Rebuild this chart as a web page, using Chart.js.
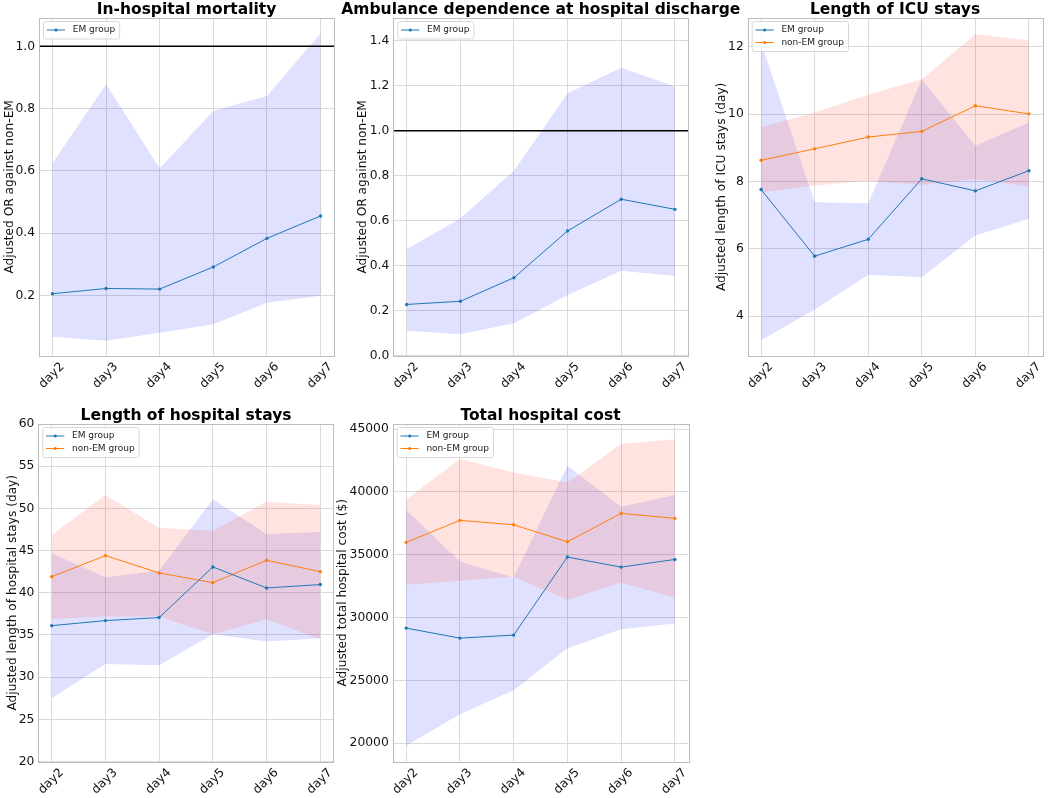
<!DOCTYPE html>
<html>
<head>
<meta charset="utf-8">
<script src="https://cdn.jsdelivr.net/npm/chart.js@4.4.1/dist/chart.umd.min.js"></script>
<style>
html, body { margin: 0; padding: 0; background: #fff; overflow: hidden; }
#wrap { position: relative; width: 1048px; height: 798px; }
canvas { position: absolute; }
</style>
</head>
<body>
<div id="wrap">
  <canvas id="c1"></canvas>
  <canvas id="c2"></canvas>
  <canvas id="c3"></canvas>
  <canvas id="c4"></canvas>
  <canvas id="c5"></canvas>
</div>
<script>
// categories
var days = ['day2', 'day3', 'day4', 'day5', 'day6', 'day7'];

// In-hospital mortality (adjusted OR, EM vs non-EM)
var mortEM   = [0.205, 0.222, 0.220, 0.291, 0.383, 0.455];
var mortEMHi = [0.624, 0.878, 0.608, 0.792, 0.840, 1.042];
var mortEMLo = [0.067, 0.054, 0.080, 0.107, 0.176, 0.199];
var mortTicks = [0.2, 0.4, 0.6, 0.8, 1.0];

// Ambulance dependence at discharge (adjusted OR)
var ambEM   = [0.228, 0.242, 0.347, 0.555, 0.696, 0.651];
var ambEMHi = [0.473, 0.611, 0.823, 1.167, 1.281, 1.197];
var ambEMLo = [0.111, 0.095, 0.144, 0.270, 0.378, 0.355];
var ambTicks = [0.0, 0.2, 0.4, 0.6, 0.8, 1.0, 1.2, 1.4];

// Length of ICU stays (day)
var icuEM    = [7.76, 5.78, 6.28, 8.08, 7.72, 8.32];
var icuEMHi  = [12.13, 7.38, 7.35, 11.04, 9.06, 9.75];
var icuEMLo  = [3.28, 4.19, 5.23, 5.15, 6.39, 6.89];
var icuNon   = [8.63, 8.97, 9.32, 9.49, 10.25, 10.01];
var icuNonHi = [9.61, 10.05, 10.58, 11.04, 12.38, 12.20];
var icuNonLo = [7.67, 7.88, 8.02, 7.90, 8.07, 7.85];
var icuTicks = [4, 6, 8, 10, 12];

// Length of hospital stays (day)
var losEM    = [36.1, 36.7, 37.06, 43.06, 40.57, 40.97];
var losEMHi  = [44.68, 41.84, 42.6, 51.08, 46.97, 47.2];
var losEMLo  = [27.5, 31.57, 31.41, 35.08, 34.21, 34.6];
var losNon   = [41.9, 44.4, 42.35, 41.2, 43.85, 42.5];
var losNonHi = [46.85, 51.59, 47.68, 47.36, 50.8, 50.4];
var losNonLo = [36.9, 37.2, 37.2, 35.08, 36.86, 34.5];
var losTicks = [20, 25, 30, 35, 40, 45, 50, 55, 60];

// Total hospital cost ($)
var costEM    = [29156, 28360, 28600, 34810, 34010, 34620];
var costEMHi  = [38550, 34460, 33190, 42080, 38820, 39745];
var costEMLo  = [19790, 22310, 24220, 27560, 29070, 29530];
var costNon   = [35980, 37730, 37380, 36030, 38285, 37890];
var costNonHi = [39400, 42610, 41550, 40750, 43800, 44180];
var costNonLo = [32610, 32925, 33240, 31410, 32790, 31600];
var costTicks = [20000, 25000, 30000, 35000, 40000, 45000];

var FONT = '"DejaVu Sans", sans-serif';
var GRID = '#dadada';
var BLUE = '#1f77b4', ORANGE = '#ff7f0e';
var BAND_EM = 'rgba(0, 0, 255, 0.12)', BAND_NON = 'rgba(250, 90, 70, 0.17)';

function pts(arr) {
    return arr.map(function (v, i) { return {x: i, y: v}; });
}
function oneDec(v) { return v.toFixed(1); }
function plain(v) { return String(v); }

function makeChart(cfg) {
    var cv = document.getElementById(cfg.id);
    cv.width = cfg.w; cv.height = cfg.h;
    cv.style.left = cfg.x + 'px'; cv.style.top = cfg.y + 'px';

    var datasets = [];
    cfg.groups.forEach(function (g, k) {
        datasets.push({data: pts(g.hi), fill: '+1', backgroundColor: g.band, borderWidth: 0, pointRadius: 0, order: 3 - k});
        datasets.push({data: pts(g.lo), fill: false, borderWidth: 0, pointRadius: 0, order: 3 - k});
        datasets.push({label: g.label, data: pts(g.mean), borderColor: g.color, backgroundColor: g.color,
            borderWidth: 1, pointRadius: 1.7, pointBorderWidth: 0, fill: false, order: 0});
    });

    var panel = {
        id: 'panel',
        afterDatasetsDraw: function (chart) {
            if (cfg.ref == null) return;
            var ctx = chart.ctx, ca = chart.chartArea;
            var py = chart.scales.y.getPixelForValue(cfg.ref);
            ctx.save();
            ctx.strokeStyle = '#000'; ctx.lineWidth = 1.5;
            ctx.beginPath(); ctx.moveTo(ca.left, py); ctx.lineTo(ca.right, py); ctx.stroke();
            ctx.restore();
        },
        afterDraw: function (chart) {
            var ctx = chart.ctx, ca = chart.chartArea;
            ctx.save();
            // frame
            ctx.strokeStyle = '#bcbcbc'; ctx.lineWidth = 1;
            ctx.strokeRect(Math.round(ca.left) + 0.5, Math.round(ca.top) + 0.5,
                Math.round(ca.right - ca.left), Math.round(ca.bottom - ca.top));
            // legend inside the axes
            ctx.font = '9px ' + FONT;
            var tw = 0;
            cfg.groups.forEach(function (g) { tw = Math.max(tw, ctx.measureText(g.label).width); });
            var lx = ca.left + 4, ly = ca.top + 3;
            var bw = 29.7 + tw + 4, bh = 5 + cfg.groups.length * 12.5;
            ctx.fillStyle = 'rgba(255,255,255,0.8)';
            ctx.strokeStyle = '#d8d8d8';
            ctx.beginPath(); ctx.roundRect(lx + 0.5, ly + 0.5, bw, bh, 2); ctx.fill(); ctx.stroke();
            cfg.groups.forEach(function (g, i) {
                var cy = ly + 2.5 + 6.5 + i * 12.5;
                ctx.strokeStyle = g.color; ctx.lineWidth = 1;
                ctx.beginPath(); ctx.moveTo(lx + 3.7, cy); ctx.lineTo(lx + 22, cy); ctx.stroke();
                ctx.fillStyle = g.color;
                ctx.beginPath(); ctx.arc(lx + 13, cy, 1.6, 0, Math.PI * 2); ctx.fill();
                ctx.fillStyle = '#222'; ctx.textBaseline = 'middle'; ctx.textAlign = 'left';
                ctx.fillText(g.label, lx + 29.7, cy);
            });
            // panel title
            ctx.font = 'bold 15.5px ' + FONT;
            ctx.fillStyle = '#000'; ctx.textAlign = 'center'; ctx.textBaseline = 'alphabetic';
            ctx.fillText(cfg.title, (ca.left + ca.right) / 2, ca.top - 4);
            ctx.restore();
        }
    };

    return new Chart(cv, {
        type: 'line',
        data: {datasets: datasets},
        plugins: [panel],
        options: {
            responsive: false,
            animation: false,
            layout: {padding: {top: cfg.padTop, right: cfg.padRight, left: 0, bottom: 0}},
            plugins: {legend: {display: false}, tooltip: {enabled: false}},
            elements: {line: {tension: 0}},
            scales: {
                x: {
                    type: 'linear', min: -0.25, max: 5.25, bounds: 'data',
                    afterBuildTicks: function (s) { s.ticks = days.map(function (d, i) { return {value: i}; }); },
                    afterFit: function (s) { s.height = cfg.xh; },
                    ticks: {
                        minRotation: 45, maxRotation: 45, autoSkip: false, padding: 4, labelOffset: 10,
                        color: '#111', font: {family: FONT, size: 12.2},
                        callback: function (v) { return days[v]; }
                    },
                    grid: {color: GRID, drawTicks: false},
                    border: {display: false}
                },
                y: {
                    type: 'linear', min: cfg.ymin, max: cfg.ymax, bounds: 'data',
                    afterBuildTicks: function (s) { s.ticks = cfg.yticks.map(function (v) { return {value: v}; }); },
                    afterFit: function (s) { s.width = cfg.yw; },
                    ticks: {padding: 4, color: '#111', font: {family: FONT, size: 12.3}, callback: cfg.fmt},
                    title: {display: true, text: cfg.ytitle, color: '#111', font: {family: FONT, size: 12.2},
                        padding: {top: cfg.ytp, bottom: 0}},
                    grid: {color: GRID, drawTicks: false},
                    border: {display: false}
                }
            }
        }
    });
}

var emLabel = 'EM group', nonLabel = 'non-EM group';

makeChart({
    id: 'c1', x: 0, y: 0, w: 340, h: 400, padTop: 18, padRight: 6, yw: 39, xh: 44.3, ytp: 2.7,
    ymin: 0.006, ymax: 1.091, yticks: mortTicks, fmt: oneDec, ref: 1.0,
    title: 'In-hospital mortality', ytitle: 'Adjusted OR against non-EM',
    groups: [{label: emLabel, mean: mortEM, hi: mortEMHi, lo: mortEMLo, color: BLUE, band: BAND_EM}]
});
makeChart({
    id: 'c2', x: 340, y: 0, w: 420, h: 400, padTop: 18, padRight: 71.7, yw: 53.3, xh: 44.3, ytp: 15.4,
    ymin: 0, ymax: 1.502, yticks: ambTicks, fmt: oneDec, ref: 1.0,
    title: 'Ambulance dependence at hospital discharge', ytitle: 'Adjusted OR against non-EM',
    groups: [{label: emLabel, mean: ambEM, hi: ambEMHi, lo: ambEMLo, color: BLUE, band: BAND_EM}]
});
makeChart({
    id: 'c3', x: 700, y: 0, w: 348, h: 400, padTop: 18, padRight: 5.7, yw: 47.7, xh: 44.3, ytp: 14.4,
    ymin: 2.82, ymax: 12.86, yticks: icuTicks, fmt: plain, ref: null,
    title: 'Length of ICU stays', ytitle: 'Adjusted length of ICU stays (day)',
    groups: [
        {label: emLabel, mean: icuEM, hi: icuEMHi, lo: icuEMLo, color: BLUE, band: BAND_EM},
        {label: nonLabel, mean: icuNon, hi: icuNonHi, lo: icuNonLo, color: ORANGE, band: BAND_NON}
    ]
});
makeChart({
    id: 'c4', x: 0, y: 400, w: 340, h: 398, padTop: 24, padRight: 6.3, yw: 38.3, xh: 36.5, ytp: 5.4,
    ymin: 20, ymax: 60, yticks: losTicks, fmt: plain, ref: null,
    title: 'Length of hospital stays', ytitle: 'Adjusted length of hospital stays (day)',
    groups: [
        {label: emLabel, mean: losEM, hi: losEMHi, lo: losEMLo, color: BLUE, band: BAND_EM},
        {label: nonLabel, mean: losNon, hi: losNonHi, lo: losNonLo, color: ORANGE, band: BAND_NON}
    ]
});
makeChart({
    id: 'c5', x: 325, y: 400, w: 375, h: 398, padTop: 24, padRight: 11.7, yw: 67.7, xh: 36.5, ytp: 10.7,
    ymin: 18540, ymax: 45400, yticks: costTicks, fmt: plain, ref: null,
    title: 'Total hospital cost', ytitle: 'Adjusted total hospital cost ($)',
    groups: [
        {label: emLabel, mean: costEM, hi: costEMHi, lo: costEMLo, color: BLUE, band: BAND_EM},
        {label: nonLabel, mean: costNon, hi: costNonHi, lo: costNonLo, color: ORANGE, band: BAND_NON}
    ]
});
</script>
</body>
</html>
